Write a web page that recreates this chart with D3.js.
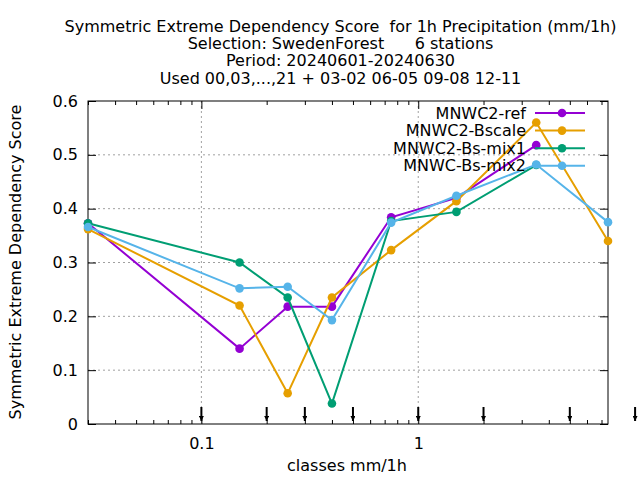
<!DOCTYPE html>
<html>
<head>
<meta charset="utf-8">
<script src="https://cdn.jsdelivr.net/npm/d3@7"></script>
<style>
  body { margin: 0; background: #fff; }
  text { font-family: "DejaVu Sans", sans-serif; fill: #000; white-space: pre; }
</style>
</head>
<body>
<div id="canvas"></div>
<script>
// Datos
const classes = [0.03, 0.15, 0.25, 0.4, 0.75, 1.5, 3.5, 7.5];
const thresholds = [0.1, 0.2, 0.3, 0.5, 1, 2, 5, 10];
const seriesNames = ["MNWC2-ref", "MNWC2-Bscale", "MNWC2-Bs-mix1", "MNWC-Bs-mix2"];
const refValues = [0.373, 0.140, 0.218, 0.218, 0.384, 0.420, 0.518, null];
const bscaleValues = [0.362, 0.220, 0.057, 0.235, 0.323, 0.414, 0.560, 0.340];
const mix1Values = [0.373, 0.300, 0.235, 0.038, 0.377, 0.394, 0.481, null];
const mix2Values = [0.366, 0.252, 0.255, 0.193, 0.374, 0.424, 0.482, 0.375];
const yTicks = [0, 0.1, 0.2, 0.3, 0.4, 0.5, 0.6];
const xTicks = [0.1, 1];
const titleLines = [
    "Symmetric Extreme Dependency Score  for 1h Precipitation (mm/1h)",
    "Selection: SwedenForest      6 stations",
    "Period: 20240601-20240630",
    "Used 00,03,...,21 + 03-02 06-05 09-08 12-11"
];
const colors = ["#9400d3", "#e69f00", "#009e73", "#56b4e9"];

const width = 640;
const height = 480;
const margin = {top: 101, left: 88, bottom: 56, right: 32};
const iwidth = width - margin.left - margin.right;
const iheight = height - margin.top - margin.bottom;

const svg = d3.select("#canvas").append("svg")
    .attr("width", width)
    .attr("height", height);

const g = svg.append("g").attr("transform", `translate(${margin.left}, ${margin.top})`);

// Escalas
const x = d3.scaleLog().domain([0.03, 7.5]).range([0, iwidth]);
const y = d3.scaleLinear().domain([0, 0.6]).range([iheight, 0]);

// Rejilla
g.selectAll(".ygrid").data(yTicks.filter(d => d > 0 && d < 0.6)).enter().append("line")
    .attr("x1", 0).attr("x2", iwidth)
    .attr("y1", d => y(d)).attr("y2", d => y(d))
    .attr("stroke", "#a0a0a0").attr("stroke-dasharray", "2,3");
g.selectAll(".xgrid").data(xTicks).enter().append("line")
    .attr("x1", d => x(d)).attr("x2", d => x(d))
    .attr("y1", 0).attr("y2", iheight)
    .attr("stroke", "#a0a0a0").attr("stroke-dasharray", "2,3");

// Ticks menores logaritmicos
const minor = [];
[0.01, 0.1, 1].forEach(dec => {
    for (let k = 2; k <= 9; k++) {
        const v = dec * k;
        if (v >= 0.03 && v <= 7.5) minor.push(v);
    }
});

// Ejes
const xAxis = g.append("g").attr("transform", `translate(0, ${iheight})`)
    .call(d3.axisBottom(x).tickValues(xTicks).tickFormat(d3.format("")).tickSizeInner(-8).tickSizeOuter(0).tickPadding(14));
const xAxisTop = g.append("g")
    .call(d3.axisTop(x).tickValues(xTicks).tickFormat("").tickSizeInner(-8).tickSizeOuter(0));
const xMinor = g.append("g").attr("transform", `translate(0, ${iheight})`)
    .call(d3.axisBottom(x).tickValues(minor).tickFormat("").tickSizeInner(-4).tickSizeOuter(0));
const xMinorTop = g.append("g")
    .call(d3.axisTop(x).tickValues(minor).tickFormat("").tickSizeInner(-4).tickSizeOuter(0));
const yAxis = g.append("g")
    .call(d3.axisLeft(y).tickValues(yTicks).tickFormat(d3.format("")).tickSizeInner(-8).tickSizeOuter(0).tickPadding(10));
const yAxisRight = g.append("g").attr("transform", `translate(${iwidth}, 0)`)
    .call(d3.axisRight(y).tickValues(yTicks).tickFormat("").tickSizeInner(-8).tickSizeOuter(0));

[xAxis, xAxisTop, xMinor, xMinorTop, yAxis, yAxisRight].forEach(a => {
    a.select(".domain").remove();
    a.selectAll("line").attr("stroke", "#000");
    a.selectAll("text").style("font-size", "16px").attr("font-family", "DejaVu Sans");
});

// Borde
g.append("rect")
    .attr("width", iwidth).attr("height", iheight)
    .attr("fill", "none").attr("stroke", "#000").attr("stroke-width", 1);

// Flechas en los umbrales
svg.append("defs").append("marker")
    .attr("id", "arrow")
    .attr("viewBox", "0 0 10 10")
    .attr("refX", 10).attr("refY", 5)
    .attr("markerWidth", 5).attr("markerHeight", 5)
    .attr("markerUnits", "userSpaceOnUse")
    .attr("orient", "auto")
    .append("path").attr("d", "M0,0 L10,5 L0,10 z").attr("fill", "#000");

g.selectAll(".arrow").data(thresholds).enter().append("line")
    .attr("x1", d => x(d)).attr("x2", d => x(d))
    .attr("y1", iheight - 17).attr("y2", iheight - 3)
    .attr("stroke", "#000").attr("stroke-width", 2)
    .attr("marker-end", "url(#arrow)");

// Series
const allSeries = [refValues, bscaleValues, mix1Values, mix2Values];
const line = d3.line()
    .defined(d => d.v !== null)
    .x(d => x(d.c)).y(d => y(d.v));

allSeries.forEach((vals, i) => {
    const pts = vals.map((v, j) => ({c: classes[j], v: v}));
    g.append("path")
        .datum(pts)
        .attr("fill", "none")
        .attr("stroke", colors[i])
        .attr("stroke-width", 2)
        .attr("d", line);
    g.selectAll(".pt" + i).data(pts.filter(d => d.v !== null)).enter().append("circle")
        .attr("cx", d => x(d.c)).attr("cy", d => y(d.v))
        .attr("r", 4.3)
        .attr("fill", colors[i]);
});

// Leyenda
const legend = g.append("g");
seriesNames.forEach((name, i) => {
    const ly = 12 + i * 17.6;
    legend.append("text")
        .attr("x", 438).attr("y", ly)
        .attr("dy", "0.35em")
        .attr("text-anchor", "end")
        .style("font-size", "16px")
        .text(name);
    legend.append("line")
        .attr("x1", 447).attr("x2", 497)
        .attr("y1", ly).attr("y2", ly)
        .attr("stroke", colors[i]).attr("stroke-width", 2);
    legend.append("circle")
        .attr("cx", 474).attr("cy", ly).attr("r", 4.3)
        .attr("fill", colors[i]);
});

// Titulo
titleLines.forEach((t, i) => {
    svg.append("text")
        .attr("x", 340.5).attr("y", 32 + i * 17.2)
        .attr("text-anchor", "middle")
        .style("font-size", "16px")
        .text(t);
});

// Etiquetas de los ejes
svg.append("text")
    .attr("x", 347).attr("y", 471)
    .attr("text-anchor", "middle")
    .style("font-size", "16px")
    .text("classes mm/1h");

svg.append("text")
    .attr("transform", "rotate(-90)")
    .attr("x", -262).attr("y", 21)
    .attr("text-anchor", "middle")
    .style("font-size", "16px")
    .text("Symmetric Extreme Dependency Score");
</script>
</body>
</html>
